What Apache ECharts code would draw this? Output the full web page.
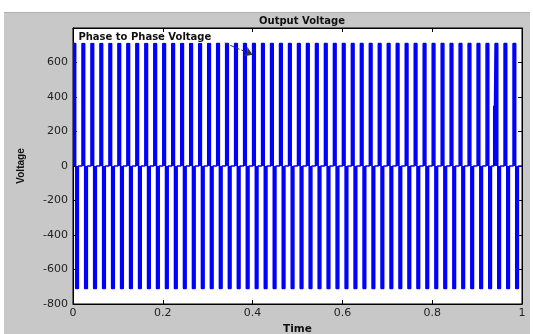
<!DOCTYPE html>
<html>
<head>
<meta charset="utf-8">
<script src="https://cdn.jsdelivr.net/npm/echarts@6/dist/echarts.min.js"></script>
<style>
  html, body { margin: 0; padding: 0; background: #fff; }
  #wrap { position: relative; width: 533px; height: 334px; }
  #figure { position: absolute; left: 4px; top: 12px; width: 526px; height: 322px;
            background: #c8c8c8; border-top: 1px solid #b0b0b0; box-sizing: border-box; }
  #chart { position: absolute; left: 0; top: 0; width: 533px; height: 334px; }
</style>
</head>
<body>
<div id="wrap">
  <div id="figure"></div>
  <div id="chart"></div>
</div>
<script>
// values
const xTicks = [0, 0.2, 0.4, 0.6, 0.8, 1];
const yTicks = [-800, -600, -400, -200, 0, 200, 400, 600, 800];
const pulseFreq = 50;                  // 50 pulses counted over 0..1 s
const cycleStarts = [0, 0.3, 0.6];     // fraction of a period where each level begins
const cycleLevels = [710, -710, 0];    // +V, -V, zero
const glitchTimes = [0.937];
const glitchLevels = [350];
const endTime = 1;

// step points: each [t, v] holds v until the next point
let pts = [];
for (let k = 0; k < pulseFreq * endTime; k++) {
  for (let j = 0; j < cycleStarts.length; j++) {
    pts.push([(k + cycleStarts[j]) / pulseFreq, cycleLevels[j]]);
  }
}
glitchTimes.forEach((t, i) => {
  pts.push([t, glitchLevels[i]]);
  pts.push([t + 0.0006, 0]);
});
pts.sort((a, b) => a[0] - b[0]);
pts.push([endTime, 0]);

const wide = 'DejaVu Sans, sans-serif';
const narrow = 'Liberation Sans, Arial, sans-serif';

let chart = echarts.init(document.getElementById('chart'));
chart.setOption({
  animation: false,
  title: {
    text: 'Output Voltage',
    left: 297, top: 11, textAlign: 'center',
    textStyle: { fontFamily: wide, fontSize: 10, fontWeight: 'bold', color: '#111' }
  },
  grid: {
    left: 73, top: 28, right: 11, bottom: 30,
    outerBoundsMode: 'none', containLabel: false,
    show: true, backgroundColor: '#fff', borderColor: '#000', borderWidth: 1
  },
  xAxis: [{
    type: 'value', min: xTicks[0], max: xTicks[xTicks.length - 1], interval: 0.2,
    name: 'Time', nameLocation: 'middle', nameGap: 19,
    nameTextStyle: { fontFamily: wide, fontSize: 10.5, fontWeight: 'bold', color: '#111' },
    axisLine: { onZero: false, lineStyle: { color: '#000' } },
    axisTick: { inside: true, length: 4, lineStyle: { color: '#000' } },
    axisLabel: { fontFamily: wide, fontSize: 11, color: '#222', margin: 4,
      formatter: v => String(+v.toFixed(1)) },
    splitLine: { show: false }
  }, {
    type: 'value', position: 'top', min: xTicks[0], max: xTicks[xTicks.length - 1], interval: 0.2,
    axisLine: { onZero: false, lineStyle: { color: '#000' } },
    axisTick: { inside: true, length: 4, lineStyle: { color: '#000' } },
    axisLabel: { show: false }, splitLine: { show: false }
  }],
  yAxis: [{
    type: 'value', min: yTicks[0], max: yTicks[yTicks.length - 1], interval: 200,
    name: 'Voltage', nameLocation: 'middle', nameGap: 47,
    nameTextStyle: { fontFamily: narrow, fontSize: 10, fontWeight: 'bold', color: '#111' },
    axisLine: { onZero: false, lineStyle: { color: '#000' } },
    axisTick: { inside: true, length: 4, lineStyle: { color: '#000' } },
    axisLabel: { fontFamily: wide, fontSize: 11, color: '#222', margin: 5, showMaxLabel: false },
    splitLine: { show: false }
  }, {
    type: 'value', position: 'right', min: yTicks[0], max: yTicks[yTicks.length - 1], interval: 200,
    axisLine: { onZero: false, lineStyle: { color: '#000' } },
    axisTick: { inside: true, length: 4, lineStyle: { color: '#000' } },
    axisLabel: { show: false }, splitLine: { show: false }
  }],
  series: [{
    type: 'line',
    step: 'end',
    data: pts,
    symbol: 'none',
    sampling: false,
    z: 1,
    lineStyle: { color: '#0000ff', width: 1.5 },
    areaStyle: { color: '#0000ff', opacity: 1, origin: 0 },
    markLine: {
      silent: true,
      symbol: ['none', 'arrow'],
      symbolSize: 8,
      label: { show: false },
      lineStyle: { color: '#333', type: 'dashed', width: 1 },
      data: [[{ coord: [0.338, 713] }, { coord: [0.40, 645] }]]
    },
    markPoint: {
      silent: true,
      symbolSize: 0,
      label: {
        show: true, position: 'right', distance: 0,
        formatter: 'Phase to Phase Voltage',
        fontFamily: wide, fontSize: 10, fontWeight: 'bold', color: '#111',
        backgroundColor: '#fff'
      },
      data: [{ coord: [0.012, 745] }]
    }
  }]
});
</script>
</body>
</html>
